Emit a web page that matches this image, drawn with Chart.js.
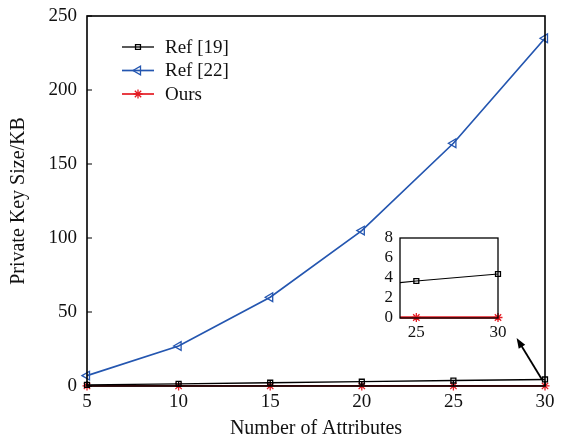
<!DOCTYPE html>
<html>
<head>
<meta charset="utf-8">
<script src="https://cdn.jsdelivr.net/npm/chart.js@4"></script>
<style>
  body { margin: 0; background: #fff; }
  #wrap { position: relative; width: 566px; height: 441px; }
  #main { position: absolute; left: 0; top: 0; }
  #inset { position: absolute; left: 360px; top: 225px; }
</style>
</head>
<body>
<div id="wrap">
  <canvas id="main" width="566" height="441"></canvas>
  <canvas id="inset" width="150" height="120"></canvas>
</div>
<script>
// values
const attributes = [5, 10, 15, 20, 25, 30];
const ref19 = [0.8, 1.5, 2.2, 2.9, 3.7, 4.4];
const ref22 = [7, 27, 60, 105, 164, 235];
const ours = [0.05, 0.05, 0.05, 0.05, 0.05, 0.05];
const yTicks = [0, 50, 100, 150, 200, 250];
const xTicks = [5, 10, 15, 20, 25, 30];
const insetXTicks = [25, 30];
const insetYTicks = [0, 2, 4, 6, 8];

const serif = '"Liberation Serif", "Times New Roman", serif';
Chart.defaults.font.family = serif;
Chart.defaults.color = '#111';

const toPts = vals => attributes.map((x, i) => ({ x: x, y: vals[i] }));

const series = [
  { label: 'Ref [19]', data: ref19, color: '#000', style: 'rect', rot: 0, r: 3.5, w: 1.3 },
  { label: 'Ref [22]', data: ref22, color: '#2456b0', style: 'triangle', rot: -90, r: 5, w: 1.7 },
  { label: 'Ours', data: ours, color: '#e41b23', style: 'star', rot: 0, r: 4.5, w: 1.7 }
];

function makeDatasets(widths, clip) {
  return series.map((s, i) => ({
    label: s.label,
    data: toPts(s.data),
    borderColor: s.color,
    backgroundColor: 'rgba(0,0,0,0)',
    borderWidth: widths ? widths[i] : s.w,
    pointStyle: s.style,
    rotation: s.rot,
    pointRadius: s.r,
    pointBorderColor: s.color,
    pointBackgroundColor: 'rgba(0,0,0,0)',
    pointBorderWidth: 1.3,
    tension: 0,
    clip: clip
  }));
}

const fixedTicks = list => scale => { scale.ticks = list.map(v => ({ value: v })); };
const fixWidth = w => s => { s.width = w; s.paddingTop = 0; s.paddingBottom = 0; };
const fixHeight = h => s => { s.height = h; s.paddingLeft = 0; s.paddingRight = 0; };

// frame + inward ticks
const frame = {
  id: 'frame',
  afterDraw(chart, args, opts) {
    const { ctx, chartArea: a, scales } = chart;
    ctx.save();
    ctx.strokeStyle = '#000';
    ctx.lineWidth = opts.width || 1.5;
    ctx.strokeRect(a.left, a.top, a.right - a.left, a.bottom - a.top);
    if (opts.ticks) {
      ctx.lineWidth = 1.2;
      ctx.beginPath();
      scales.y.ticks.forEach(t => {
        const y = scales.y.getPixelForValue(t.value);
        ctx.moveTo(a.left, y); ctx.lineTo(a.left + 5, y);
      });
      scales.x.ticks.forEach(t => {
        const x = scales.x.getPixelForValue(t.value);
        ctx.moveTo(x, a.bottom); ctx.lineTo(x, a.bottom - 5);
      });
      ctx.stroke();
    }
    ctx.restore();
  }
};

// legend drawn inside the plot, line + marker like the original
const innerLegend = {
  id: 'innerLegend',
  afterDraw(chart) {
    const { ctx, chartArea: a } = chart;
    ctx.save();
    chart.data.datasets.forEach((ds, i) => {
      const y = a.top + 31 + i * 23.5;
      const x0 = a.left + 35, x1 = a.left + 67;
      ctx.strokeStyle = ds.borderColor;
      ctx.lineWidth = ds.borderWidth;
      ctx.beginPath(); ctx.moveTo(x0, y); ctx.lineTo(x1, y); ctx.stroke();
      ctx.lineWidth = ds.pointBorderWidth;
      ctx.fillStyle = 'rgba(0,0,0,0)';
      Chart.helpers.drawPoint(ctx, {
        pointStyle: ds.pointStyle, rotation: ds.rotation, radius: ds.pointRadius, borderWidth: ds.pointBorderWidth
      }, (x0 + x1) / 2, y);
      ctx.fillStyle = '#111';
      ctx.font = '19px ' + serif;
      ctx.textBaseline = 'middle';
      ctx.fillText(ds.label, x1 + 11, y + 1);
    });
    ctx.restore();
  }
};

// arrow pointing to the zoomed inset
const arrow = {
  id: 'arrow',
  afterDraw(chart) {
    const { ctx, scales: { x, y } } = chart;
    const x1 = x.getPixelForValue(29.85), y1 = y.getPixelForValue(4);
    const x2 = x.getPixelForValue(28.45), y2 = y.getPixelForValue(32.5);
    const ang = Math.atan2(y2 - y1, x2 - x1);
    ctx.save();
    ctx.strokeStyle = '#000'; ctx.fillStyle = '#000'; ctx.lineWidth = 1.8;
    ctx.beginPath(); ctx.moveTo(x1, y1);
    ctx.lineTo(x2 - 8 * Math.cos(ang), y2 - 8 * Math.sin(ang)); ctx.stroke();
    ctx.beginPath();
    ctx.moveTo(x2, y2);
    ctx.lineTo(x2 - 11 * Math.cos(ang - 0.35), y2 - 11 * Math.sin(ang - 0.35));
    ctx.lineTo(x2 - 11 * Math.cos(ang + 0.35), y2 - 11 * Math.sin(ang + 0.35));
    ctx.closePath(); ctx.fill();
    ctx.restore();
  }
};

new Chart(document.getElementById('main'), {
  type: 'line',
  data: { datasets: makeDatasets(null, false) },
  options: {
    responsive: false,
    animation: false,
    devicePixelRatio: 1,
    layout: { padding: { left: 0, right: 21, top: 16, bottom: 0 } },
    plugins: { legend: { display: false }, tooltip: { enabled: false }, frame: { ticks: true, width: 1.6 } },
    scales: {
      x: {
        type: 'linear', min: 5, max: 30,
        afterBuildTicks: fixedTicks(xTicks),
        afterFit: fixHeight(55),
        grid: { display: false, drawTicks: false },
        border: { display: false },
        ticks: { font: { size: 19 }, padding: 5, color: '#111', autoSkip: false, maxRotation: 0 },
        title: { display: true, text: 'Number of Attributes', font: { size: 20 }, padding: { top: 4, bottom: 0 }, color: '#111' }
      },
      y: {
        type: 'linear', min: 0, max: 250,
        afterBuildTicks: fixedTicks(yTicks),
        afterFit: fixWidth(87),
        grid: { display: false, drawTicks: false },
        border: { display: false },
        ticks: { font: { size: 19 }, padding: 10, color: '#111', autoSkip: false },
        title: { display: true, text: 'Private Key Size/KB', font: { size: 20 }, padding: { top: 7, bottom: 0 }, color: '#111' }
      }
    }
  },
  plugins: [frame, innerLegend, arrow]
});

new Chart(document.getElementById('inset'), {
  type: 'line',
  data: { datasets: makeDatasets([1.2, 1.2, 2.4], { left: 0, top: 6, right: 8, bottom: 8 }) },
  options: {
    responsive: false,
    animation: false,
    devicePixelRatio: 1,
    layout: { padding: { left: 0, right: 12, top: 13, bottom: 0 } },
    plugins: { legend: { display: false }, tooltip: { enabled: false }, frame: { ticks: false, width: 1.3 } },
    scales: {
      x: {
        type: 'linear', min: 24, max: 30,
        afterBuildTicks: fixedTicks(insetXTicks),
        afterFit: fixHeight(27),
        grid: { display: false, drawTicks: false },
        border: { display: false },
        ticks: { font: { size: 17 }, padding: 4, color: '#111', autoSkip: false, maxRotation: 0 }
      },
      y: {
        type: 'linear', min: 0, max: 8,
        afterBuildTicks: fixedTicks(insetYTicks),
        afterFit: fixWidth(40),
        grid: { display: false, drawTicks: false },
        border: { display: false },
        ticks: { font: { size: 17 }, padding: 7, color: '#111', autoSkip: false }
      }
    }
  },
  plugins: [frame]
});
</script>
</body>
</html>
